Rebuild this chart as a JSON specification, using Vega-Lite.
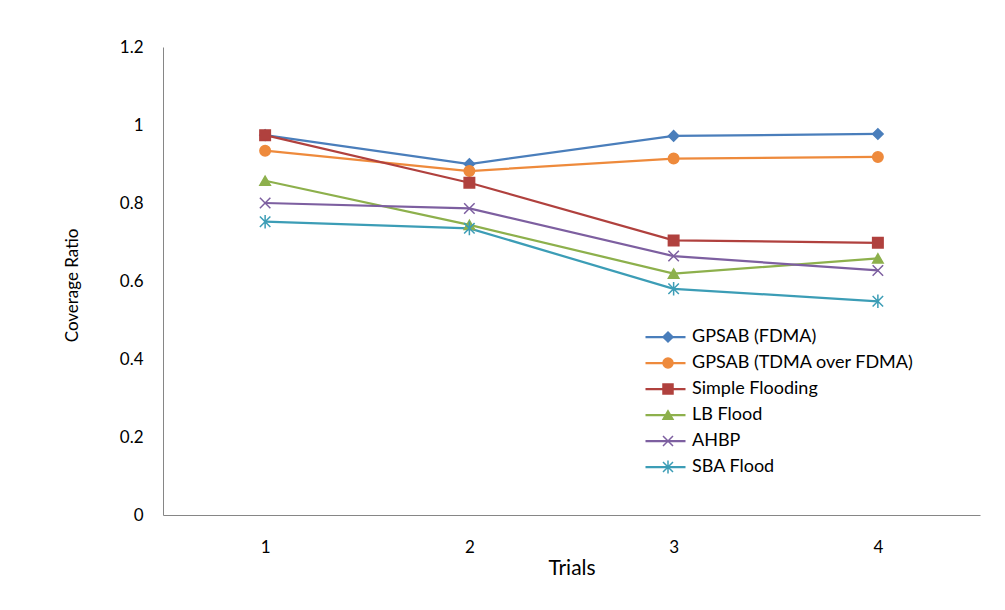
{
  "$schema": "https://vega.github.io/schema/vega-lite/v6.json",
  "width": 817,
  "height": 468,
  "autosize": {"type": "none"},
  "padding": {"left": 163, "top": 47, "right": 25, "bottom": 95},
  "background": "white",
  "config": {
    "view": {"stroke": null},
    "font": "Lato",
    "axis": {"domainColor": "#868686", "domainWidth": 1, "ticks": false, "tickSize": 0, "grid": false, "labelFont": "Lato", "labelFontSize": 17, "labelColor": "#000000", "titleFont": "Lato", "titleFontSize": 18, "titleFontWeight": "normal", "titleColor": "#000000"},
    "legend": {"labelFont": "Lato", "labelFontSize": 18, "labelColor": "#000000", "labelLimit": 0}
  },
  "data": {
    "values": [
      {"trial": "1", "series": "GPSAB (FDMA)", "ratio": 0.974},
      {"trial": "2", "series": "GPSAB (FDMA)", "ratio": 0.900},
      {"trial": "3", "series": "GPSAB (FDMA)", "ratio": 0.972},
      {"trial": "4", "series": "GPSAB (FDMA)", "ratio": 0.977},
      {"trial": "1", "series": "GPSAB (TDMA over FDMA)", "ratio": 0.934},
      {"trial": "2", "series": "GPSAB (TDMA over FDMA)", "ratio": 0.882},
      {"trial": "3", "series": "GPSAB (TDMA over FDMA)", "ratio": 0.914},
      {"trial": "4", "series": "GPSAB (TDMA over FDMA)", "ratio": 0.918},
      {"trial": "1", "series": "Simple Flooding", "ratio": 0.974},
      {"trial": "2", "series": "Simple Flooding", "ratio": 0.852},
      {"trial": "3", "series": "Simple Flooding", "ratio": 0.704},
      {"trial": "4", "series": "Simple Flooding", "ratio": 0.698},
      {"trial": "1", "series": "LB Flood", "ratio": 0.857},
      {"trial": "2", "series": "LB Flood", "ratio": 0.744},
      {"trial": "3", "series": "LB Flood", "ratio": 0.619},
      {"trial": "4", "series": "LB Flood", "ratio": 0.658},
      {"trial": "1", "series": "AHBP", "ratio": 0.800},
      {"trial": "2", "series": "AHBP", "ratio": 0.786},
      {"trial": "3", "series": "AHBP", "ratio": 0.664},
      {"trial": "4", "series": "AHBP", "ratio": 0.627},
      {"trial": "1", "series": "SBA Flood", "ratio": 0.752},
      {"trial": "2", "series": "SBA Flood", "ratio": 0.735},
      {"trial": "3", "series": "SBA Flood", "ratio": 0.580},
      {"trial": "4", "series": "SBA Flood", "ratio": 0.548}
    ]
  },
  "encoding": {
    "x": {"field": "trial", "type": "ordinal", "scale": {"type": "point", "padding": 0.5},
      "axis": {"title": "Trials", "labelAngle": 0, "labelPadding": 24, "titleFontSize": 21, "titleY": 53, "titleBaseline": "middle"}},
    "y": {"field": "ratio", "type": "quantitative", "scale": {"domain": [0, 1.2], "nice": false, "zero": true},
      "axis": {"title": "Coverage Ratio", "values": [0, 0.2, 0.4, 0.6, 0.8, 1, 1.2], "format": "~g", "labelPadding": 20, "titleFontSize": 17, "titleX": -91, "titleY": 238, "titleAngle": -90, "titleBaseline": "middle", "titleAlign": "center"}}
  },
  "layer": [
    {
      "mark": {"type": "line", "strokeWidth": 2.25},
      "encoding": {
        "color": {"field": "series", "type": "nominal",
          "sort": ["GPSAB (FDMA)", "GPSAB (TDMA over FDMA)", "Simple Flooding", "LB Flood", "AHBP", "SBA Flood"],
          "scale": {"range": ["#4A7EBB", "#EE8A3C", "#B0413E", "#8DB04C", "#7D5FA0", "#3C9DB6"]},
          "legend": {"title": null, "orient": "none", "legendX": 481, "legendY": 280, "symbolType": "stroke", "symbolSize": 1600, "symbolStrokeWidth": 2.25, "clipHeight": 20, "rowPadding": 6, "labelOffset": 5}}
      }
    },
    {
      "mark": {"type": "point", "size": 110, "strokeWidth": 1.5, "opacity": 1},
      "encoding": {
        "shape": {"field": "series", "type": "nominal",
          "scale": {"domain": ["GPSAB (FDMA)", "GPSAB (TDMA over FDMA)", "Simple Flooding", "LB Flood", "AHBP", "SBA Flood"],
            "range": ["diamond", "circle", "square", "triangle-up", "M-1,-1L1,1M-1,1L1,-1", "M-1,-1L1,1M-1,1L1,-1M0,-1.3L0,1.3"]},
          "legend": {"title": null, "orient": "none", "legendX": 496, "legendY": 280, "symbolSize": 100, "symbolStrokeWidth": 1.5, "clipHeight": 20, "rowPadding": 6, "labelExpr": "''"}},
        "fill": {"field": "series", "type": "nominal",
          "scale": {"domain": ["GPSAB (FDMA)", "GPSAB (TDMA over FDMA)", "Simple Flooding", "LB Flood", "AHBP", "SBA Flood"],
            "range": ["#4A7EBB", "#EE8A3C", "#B0413E", "#8DB04C", "#7D5FA0", "#3C9DB6"]},
          "legend": {"title": null, "orient": "none", "legendX": 496, "legendY": 280, "symbolSize": 100, "symbolStrokeWidth": 1.5, "clipHeight": 20, "rowPadding": 6, "labelExpr": "''"}},
        "stroke": {"field": "series", "type": "nominal",
          "scale": {"domain": ["GPSAB (FDMA)", "GPSAB (TDMA over FDMA)", "Simple Flooding", "LB Flood", "AHBP", "SBA Flood"],
            "range": ["#4A7EBB", "#EE8A3C", "#B0413E", "#8DB04C", "#7D5FA0", "#3C9DB6"]},
          "legend": {"title": null, "orient": "none", "legendX": 496, "legendY": 280, "symbolSize": 100, "symbolStrokeWidth": 1.5, "clipHeight": 20, "rowPadding": 6, "labelExpr": "''"}}
      }
    }
  ]
}
